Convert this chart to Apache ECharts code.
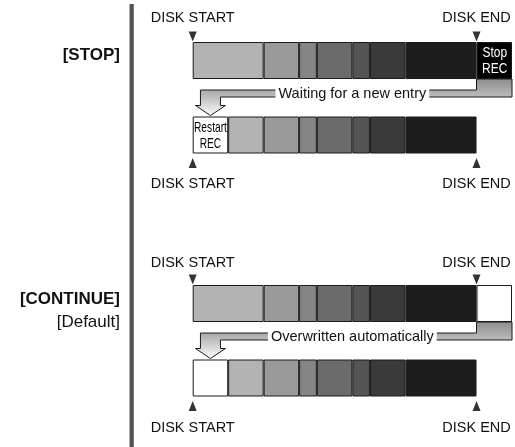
<!DOCTYPE html>
<html>
<head>
<meta charset="utf-8">
<script src="https://cdn.jsdelivr.net/npm/echarts@6/dist/echarts.min.js"></script>
<style>
  html, body { margin: 0; background: #fff; }
  #chart { width: 515px; height: 447px; }
</style>
</head>
<body>
<div id="chart"></div>
<script>
// 数据：每段录像的长度（格）
const recordedUnits = [4, 2, 1, 2, 1, 2, 4];
const trimmedUnits = [2, 2, 1, 2, 1, 2, 4];
const boxUnits = 2;
const diskEnd = 16;
const axisMax = 18;
const rows = ['record', 'next'];
const endLabels = { 0: 'DISK START', 16: 'DISK END' };
const modeTitles = ['[STOP]', '[CONTINUE]'];
const modeSubs = ['', '[Default]'];
const endBoxTexts = ['Stop\nREC', ''];
const startBoxTexts = ['Restart\nREC', ''];
const notes = ['Waiting for a new entry', 'Overwritten automatically'];

// 样式
const FONT = "'Liberation Sans', Arial, Helvetica, sans-serif";
const shades = ['#b3b3b3', '#9a9a9a', '#858585', '#6b6b6b', '#555555', '#3a3a3a', '#1d1d1d'];
const endBoxFill = ['#000000', '#ffffff'];
const startBoxFill = '#ffffff';
const BAR_W = 37;
const NOTE_X = 9;
const gridTops = [23.25, 266.25];
const labelMargins = [[-2, 4], [-4, 5]];

const chart = echarts.init(document.getElementById('chart'));

const item = (v, fill) => ({ value: v, itemStyle: { color: fill } });

// 方框里的窄体文字（横向压缩）
const boxText = (text, x, y, fill, scaleX) => ({
  type: 'text', x, y, scaleX, z2: 10,
  style: {
    text, x: 0, y: 0, align: 'center', verticalAlign: 'middle',
    textAlign: 'center', textVerticalAlign: 'middle',
    font: '15px ' + FONT, lineHeight: 16, fill,
  },
});

const series = [];
const xAxis = [];
const yAxis = [];
const grid = [];

modeTitles.forEach((_, m) => {
  grid.push({ left: 192.7, width: 319.5, top: gridTops[m], height: 149 });
  ['top', 'bottom'].forEach((pos, k) => {
    xAxis.push({
      gridIndex: m, type: 'value', position: pos, min: 0, max: axisMax, interval: diskEnd,
      axisLine: { show: false }, axisTick: { show: false }, splitLine: { show: false },
      axisLabel: {
        formatter: (v) => endLabels[v] || '', margin: labelMargins[m][k],
        color: '#111', fontSize: 14.5, fontFamily: FONT,
      },
    });
  });
  yAxis.push({ gridIndex: m, type: 'category', data: rows, inverse: true, show: false });

  const topRow = recordedUnits.concat([boxUnits]);
  const topFill = shades.concat([endBoxFill[m]]);
  const botRow = [boxUnits].concat(trimmedUnits);
  const botFill = [startBoxFill].concat(shades);

  topRow.forEach((_, i) => {
    series.push({
      type: 'bar', stack: 'disk' + m, xAxisIndex: m * 2, yAxisIndex: m, barWidth: BAR_W,
      itemStyle: { borderColor: '#1a1a1a', borderWidth: 1 },
      data: [item(topRow[i], topFill[i]), item(botRow[i], botFill[i])],
    });
  });

  // 起点/终点三角标记
  series.push({
    type: 'scatter', xAxisIndex: m * 2, yAxisIndex: m, symbol: 'triangle',
    symbolSize: [8, 10], symbolRotate: 180, symbolOffset: [0, -24],
    itemStyle: { color: '#000' }, z: 5,
    data: [[0, rows[0]], [diskEnd, rows[0]]],
  });
  series.push({
    type: 'scatter', xAxisIndex: m * 2, yAxisIndex: m, symbol: 'triangle',
    symbolSize: [8, 10], symbolOffset: [0, 28],
    itemStyle: { color: '#000' }, z: 5,
    data: [[0, rows[1]], [diskEnd, rows[1]]],
  });

  // 从终点回到起点的箭头 + 方框文字
  series.push({
    type: 'custom', xAxisIndex: m * 2, yAxisIndex: m, z: 4,
    data: [[diskEnd, 0, axisMax, boxUnits / 2]],
    renderItem: (params, api) => {
      const row = api.value(1);
      const a = api.coord([api.value(0), row]);
      const b = api.coord([api.value(2), row]);
      const c = api.coord([api.value(3), row + 1]);
      const topY = a[1] + BAR_W / 2;
      const botY = c[1] - BAR_W / 2;
      const bandTop = topY + 11, bandBot = topY + 18;
      const headY = botY - 11, tipY = botY - 1;
      const cx = c[0];
      const pts = [
        [b[0], topY], [b[0], bandBot], [cx + 10, bandBot], [cx + 10, headY],
        [cx + 15, headY], [cx, tipY], [cx - 15, headY], [cx - 10, headY],
        [cx - 10, bandTop], [a[0], bandTop], [a[0], topY],
      ];
      const tx = api.coord([NOTE_X, row])[0];
      const children = [
        {
          type: 'polygon', shape: { points: pts },
          style: {
            fill: { type: 'linear', x: 0, y: 0, x2: 0, y2: 1, colorStops: [
              { offset: 0, color: '#8c8c8c' }, { offset: 0.45, color: '#b8b8b8' },
              { offset: 1, color: '#ffffff' } ] },
            stroke: '#1a1a1a', lineWidth: 1,
          },
        },
        {
          type: 'text', z2: 10,
          style: {
            text: notes[m], x: tx, y: (bandTop + bandBot) / 2 + 0.5,
            align: 'center', verticalAlign: 'middle',
            textAlign: 'center', textVerticalAlign: 'middle',
            font: '14.5px ' + FONT, fill: '#111',
            backgroundColor: '#fff', padding: [1, 3],
          },
        },
      ];
      if (endBoxTexts[m]) {
        children.push(boxText(endBoxTexts[m], (a[0] + b[0]) / 2 + 0.5, a[1] + 0.5, '#fff', 0.8));
      }
      if (startBoxTexts[m]) {
        children.push(boxText(startBoxTexts[m], cx, c[1] + 0.5, '#000', 0.68));
      }
      return { type: 'group', children };
    },
  });
});

chart.setOption({
  animation: false,
  grid, xAxis, yAxis, series,
  graphic: [
    { type: 'rect', shape: { x: 129.5, y: 4, width: 4.3, height: 443 }, style: { fill: '#555' } },
    { type: 'text', x: 120, y: 55, style: { text: modeTitles[0], font: 'bold 17px ' + FONT, fill: '#111',
      align: 'right', verticalAlign: 'middle', textAlign: 'right', textVerticalAlign: 'middle' } },
    { type: 'text', x: 120, y: 299, style: { text: modeTitles[1], font: 'bold 17px ' + FONT, fill: '#111',
      align: 'right', verticalAlign: 'middle', textAlign: 'right', textVerticalAlign: 'middle' } },
    { type: 'text', x: 120, y: 322.5, style: { text: modeSubs[1], font: '17px ' + FONT, fill: '#111',
      align: 'right', verticalAlign: 'middle', textAlign: 'right', textVerticalAlign: 'middle' } },
  ],
});

window.addEventListener('resize', () => chart.resize());
</script>
</body>
</html>
